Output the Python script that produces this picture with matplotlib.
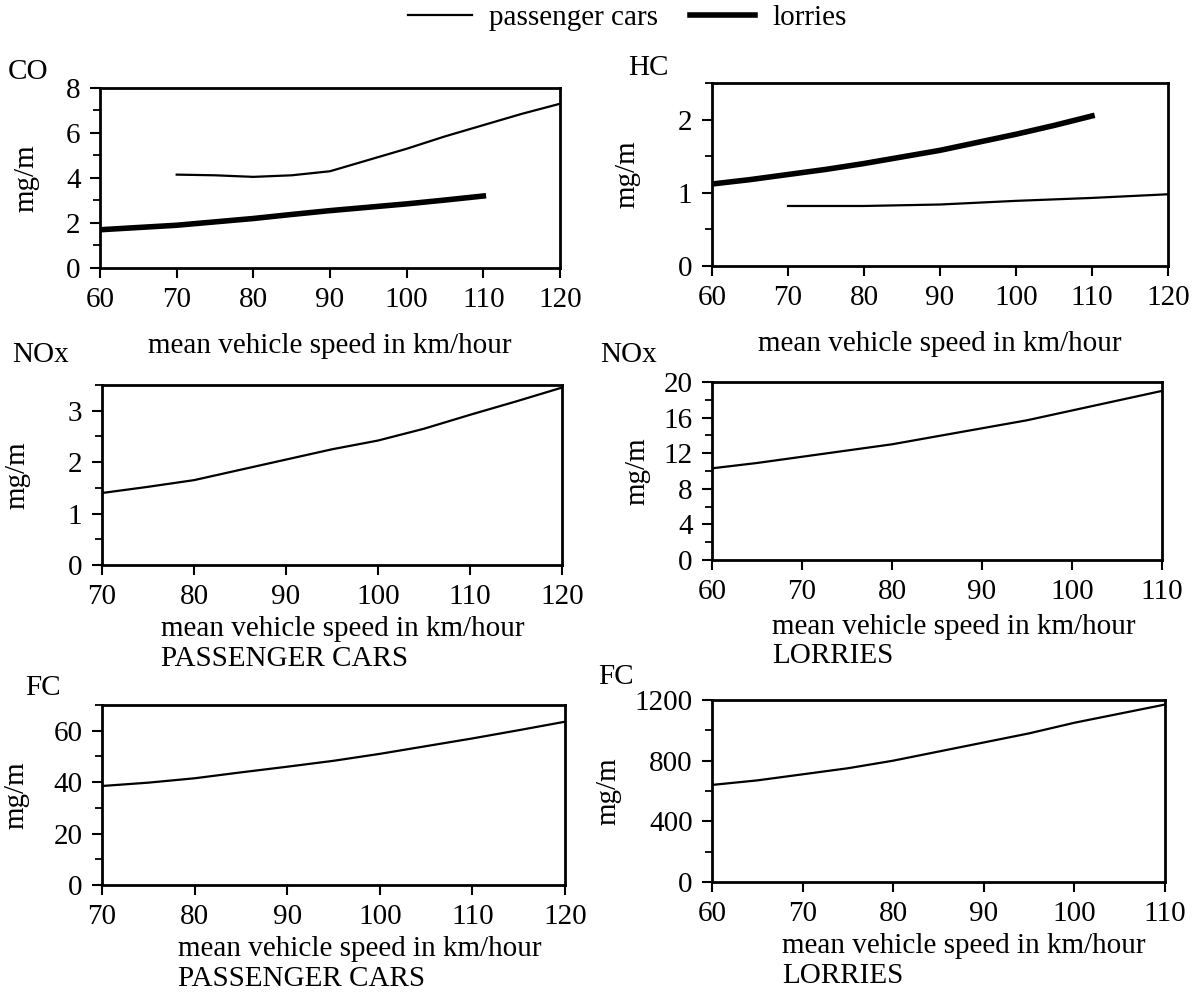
import matplotlib
matplotlib.use("Agg")
import matplotlib.pyplot as plt
from matplotlib.ticker import MultipleLocator
from matplotlib.lines import Line2D

plt.rcParams['font.family'] = ['Liberation Serif', 'DejaVu Serif']

# ---- data ----
co_cars_x = [70, 75, 80, 85, 90, 95, 100, 105, 110, 115, 120]
co_cars_y = [4.15, 4.12, 4.05, 4.12, 4.3, 4.8, 5.3, 5.85, 6.35, 6.85, 7.3]
co_lorr_x = [60, 65, 70, 75, 80, 85, 90, 95, 100, 105, 110]
co_lorr_y = [1.7, 1.8, 1.9, 2.05, 2.2, 2.38, 2.55, 2.7, 2.85, 3.02, 3.2]

hc_lorr_x = [60, 65, 70, 75, 80, 85, 90, 95, 100, 105, 110]
hc_lorr_y = [1.12, 1.18, 1.25, 1.32, 1.4, 1.49, 1.58, 1.69, 1.8, 1.92, 2.05]
hc_cars_x = [70, 80, 90, 100, 110, 120]
hc_cars_y = [0.82, 0.82, 0.84, 0.89, 0.93, 0.98]

nox_cars_x = [70, 75, 80, 85, 90, 95, 100, 105, 110, 115, 120]
nox_cars_y = [1.4, 1.52, 1.65, 1.85, 2.05, 2.25, 2.42, 2.65, 2.92, 3.18, 3.45]
nox_lorr_x = [60, 65, 70, 75, 80, 85, 90, 95, 100, 105, 110]
nox_lorr_y = [10.3, 10.9, 11.6, 12.3, 13.0, 13.9, 14.8, 15.7, 16.8, 17.9, 19.0]

fc_cars_x = [70, 75, 80, 85, 90, 95, 100, 105, 110, 115, 120]
fc_cars_y = [38.5, 39.8, 41.5, 43.8, 46, 48.3, 51, 54, 57, 60.2, 63.5]
fc_lorr_x = [60, 65, 70, 75, 80, 85, 90, 95, 100, 105, 110]
fc_lorr_y = [640, 670, 710, 750, 800, 860, 920, 980, 1050, 1110, 1170]

W, H = 1199, 996
fig = plt.figure(figsize=(W / 100, H / 100), dpi=100)

FS = 21
THIN = 1.6
THICK = 4.0

def px_axes(x0, y0, x1, y1):
    return fig.add_axes([x0 / W, 1 - y1 / H, (x1 - x0) / W, (y1 - y0) / H])

def style(ax, xlim, xmaj, ylim, ymaj, ymin, ylabelpad):
    ax.set_xlim(*xlim)
    ax.set_ylim(*ylim)
    ax.xaxis.set_major_locator(MultipleLocator(xmaj))
    ax.yaxis.set_major_locator(MultipleLocator(ymaj))
    ax.yaxis.set_minor_locator(MultipleLocator(ymin))
    for s in ax.spines.values():
        s.set_linewidth(2.0)
    ax.tick_params(direction='out', length=7, width=1.5, labelsize=FS, pad=7)
    ax.tick_params(which='minor', direction='out', length=5, width=1.3)
    ax.set_ylabel('mg/m', fontsize=FS, labelpad=ylabelpad)

# CO
ax = px_axes(100, 88, 560, 268)
ax.plot(co_cars_x, co_cars_y, color='black', lw=THIN)
ax.plot(co_lorr_x, co_lorr_y, color='black', lw=THICK)
style(ax, (60, 120), 10, (0, 8), 2, 1, 19)
ax.set_xlabel('mean vehicle speed in km/hour', fontsize=FS, labelpad=14)
fig.text(8 / W, 1 - 72 / H, 'CO', fontsize=FS, va='center', ha='left')

# HC
ax = px_axes(712, 83, 1168, 266)
ax.plot(hc_lorr_x, hc_lorr_y, color='black', lw=THICK)
ax.plot(hc_cars_x, hc_cars_y, color='black', lw=THIN)
style(ax, (60, 120), 10, (0, 2.5), 1, 0.5, 27)
ax.set_xlabel('mean vehicle speed in km/hour', fontsize=FS, labelpad=14)
fig.text(628 / W, 1 - 68 / H, 'HC', fontsize=FS, va='center', ha='left')

# NOx passenger cars
ax = px_axes(102, 385, 562, 565)
ax.plot(nox_cars_x, nox_cars_y, color='black', lw=THIN)
style(ax, (70, 120), 10, (0, 3.5), 1, 0.5, 27)
ax.set_xlabel('mean vehicle speed in km/hour\nPASSENGER CARS', fontsize=FS,
              labelpad=4, linespacing=1.2, ha='left', x=0.128)
fig.text(12 / W, 1 - 355 / H, 'NOx', fontsize=FS, va='center', ha='left')

# NOx lorries
ax = px_axes(712, 382, 1162, 560)
ax.plot(nox_lorr_x, nox_lorr_y, color='black', lw=THIN)
style(ax, (60, 110), 10, (0, 20), 4, 2, 9)
ax.set_xlabel('mean vehicle speed in km/hour\nLORRIES', fontsize=FS,
              labelpad=6, linespacing=1.15, ha='left', x=0.133)
fig.text(600 / W, 1 - 355 / H, 'NOx', fontsize=FS, va='center', ha='left')

# FC passenger cars
ax = px_axes(102, 705, 565, 885)
ax.plot(fc_cars_x, fc_cars_y, color='black', lw=THIN)
style(ax, (70, 120), 10, (0, 70), 20, 10, 17)
ax.set_xlabel('mean vehicle speed in km/hour\nPASSENGER CARS', fontsize=FS,
              labelpad=4, linespacing=1.2, ha='left', x=0.165)
fig.text(25 / W, 1 - 688 / H, 'FC', fontsize=FS, va='center', ha='left')

# FC lorries
ax = px_axes(712, 700, 1165, 882)
ax.plot(fc_lorr_x, fc_lorr_y, color='black', lw=THIN)
style(ax, (60, 110), 10, (0, 1200), 400, 200, 9)
ax.set_xlabel('mean vehicle speed in km/hour\nLORRIES', fontsize=FS,
              labelpad=4, linespacing=1.2, ha='left', x=0.155)
fig.text(598 / W, 1 - 677 / H, 'FC', fontsize=FS, va='center', ha='left')

# legend
handles = [Line2D([], [], color='black', lw=THIN),
           Line2D([], [], color='black', lw=THICK)]
fig.legend(handles, ['passenger cars', 'lorries'], loc='center',
           bbox_to_anchor=(627 / W, 1 - 18 / H), ncol=2, frameon=False,
           fontsize=FS, handlelength=2.2, columnspacing=1.1, handletextpad=0.6)

fig.savefig('out.png', dpi=100)
